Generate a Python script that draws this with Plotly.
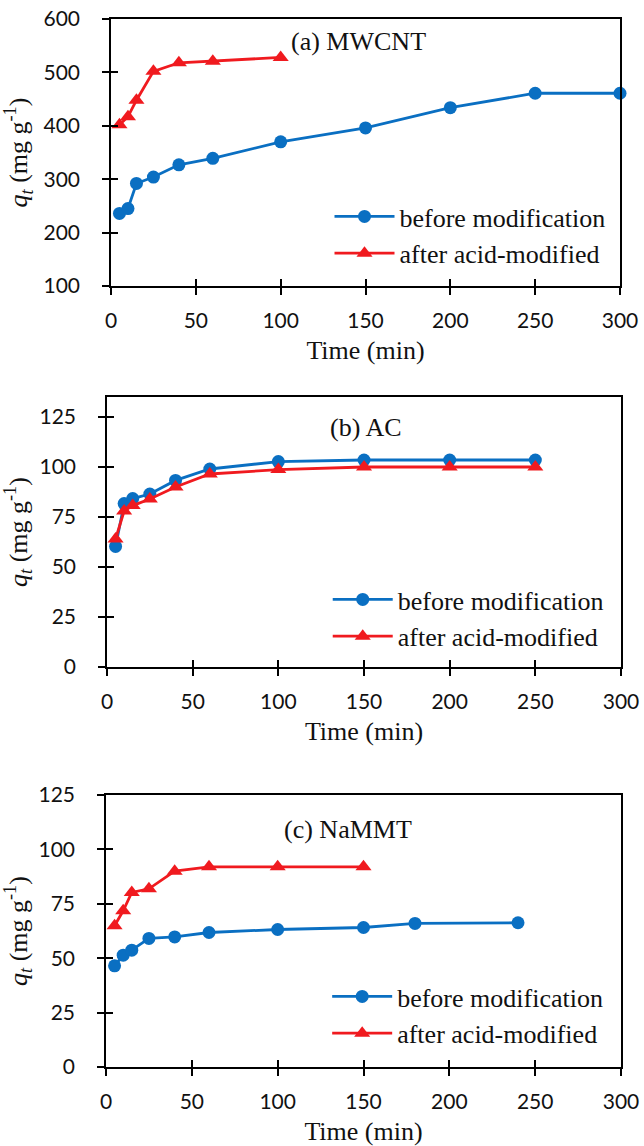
import plotly.graph_objects as go

# ---------------- data ----------------
t_a_before = [5, 10, 15, 25, 40, 60, 100, 150, 200, 250, 300]
q_a_before = [236, 245, 292, 304, 327, 339, 370, 396, 434, 461, 461]
t_a_after = [5, 10, 15, 25, 40, 60, 100]
q_a_after = [402, 417, 448, 502, 518, 521, 528]

t_b = [5, 10, 15, 25, 40, 60, 100, 150, 200, 250]
q_b_before = [60.3, 81.7, 84.2, 86.5, 93.3, 99.0, 102.7, 103.5, 103.5, 103.5]
q_b_after = [64.0, 78.0, 80.7, 84.0, 90.0, 96.5, 98.7, 100.0, 100.0, 100.0]

t_c_before = [5, 10, 15, 25, 40, 60, 100, 150, 180, 240]
q_c_before = [46.5, 51.4, 53.7, 59.1, 59.8, 61.8, 63.2, 64.1, 66.0, 66.3]
t_c_after = [5, 10, 15, 25, 40, 60, 100, 150]
q_c_after = [64.9, 71.8, 80.2, 81.9, 90.0, 92.0, 92.0, 92.0]

x_ticks = [0, 50, 100, 150, 200, 250, 300]
y_ticks_a = [100, 200, 300, 400, 500, 600]
y_ticks_b = [0, 25, 50, 75, 100, 125]
y_ticks_c = [0, 25, 50, 75, 100, 125]

panel_titles = ["(a) MWCNT", "(b) AC", "(c) NaMMT"]
series_names = ["before modification", "after acid-modified"]

BLUE = "#0A6FC2"
RED = "#F01A1F"
SERIF = "Liberation Serif"
SANS = "Lato"

W, H = 644, 1146

# panel pixel boxes: (left, right, top, bottom)
boxes = [(111, 620, 19, 286), (107, 621, 397, 667), (106, 621, 795, 1067)]
y_ranges = [[100, 600], [0, 135], [0, 125]]
y_tickvals = [y_ticks_a, y_ticks_b, y_ticks_c]
data = [
    (t_a_before, q_a_before, t_a_after, q_a_after),
    (t_b, q_b_before, t_b, q_b_after),
    (t_c_before, q_c_before, t_c_after, q_c_after),
]
title_pos = [(146, 557), (151, 120), (141, 109)]
legend_centers = [235, 618, 1015]  # pixel y of legend centre

fig = go.Figure()
layout = dict(
    width=W, height=H,
    margin=dict(l=0, r=0, t=0, b=0, autoexpand=False),
    paper_bgcolor="white", plot_bgcolor="white",
    showlegend=True,
    annotations=[],
)

ytitle = "<i>q</i><sub><i>t</i></sub> (mg g<sup>-1</sup>)"

for i in range(3):
    l, r, t, b = boxes[i]
    xd = [l / W, r / W]
    yd = [(H - b) / H, (H - t) / H]
    n = i + 1
    xm = "x" if n == 1 else f"x{n}"
    ym = "y" if n == 1 else f"y{n}"
    xo, yo = f"x{n + 3}", f"y{n + 3}"
    leg = "legend" if n == 1 else f"legend{n}"

    tb, qb, ta, qa = data[i]
    fig.add_trace(go.Scatter(
        x=tb, y=qb, mode="lines+markers", name=series_names[0],
        line=dict(color=BLUE, width=2.8),
        marker=dict(symbol="circle", size=13, color=BLUE),
        xaxis=xm, yaxis=ym, legend=leg, cliponaxis=False,
    ))
    fig.add_trace(go.Scatter(
        x=ta, y=qa, mode="lines+markers", name=series_names[1],
        line=dict(color=RED, width=2.8),
        marker=dict(symbol="triangle-up", size=14, color=RED),
        xaxis=xo, yaxis=yo, legend=leg, cliponaxis=False,
    ))

    common_x = dict(range=[0, 300], tickvals=x_ticks, showgrid=False, zeroline=False, automargin=False)
    common_y = dict(range=y_ranges[i], tickvals=y_tickvals[i], showgrid=False, zeroline=False, automargin=False)

    layout[f"xaxis{'' if n == 1 else n}"] = dict(
        domain=xd, anchor=ym, **common_x,
        showline=True, linecolor="black", linewidth=1.6, mirror=True,
        ticks="outside", ticklen=7, tickwidth=1.6, tickcolor="black",
        tickfont=dict(family=SANS, size=21, color="#111"),
        ticklabelstandoff=8,
        title=dict(text="Time (min)", font=dict(family=SERIF, size=26, color="#111"), standoff=10),
    )
    layout[f"yaxis{'' if n == 1 else n}"] = dict(
        domain=yd, anchor=xm, **common_y,
        showline=True, linecolor="black", linewidth=1.6, mirror=True,
        ticks="outside", ticklen=7, tickwidth=1.6, tickcolor="black",
        tickfont=dict(family=SANS, size=21, color="#111"),
        ticklabelstandoff=18,
        title=dict(text=ytitle, font=dict(family=SERIF, size=26, color="#111"), standoff=8),
    )
    # overlay axes: inner half of the cross tick marks
    layout[f"xaxis{n + 3}"] = dict(
        overlaying=xm, anchor=ym, **common_x,
        showline=False, ticks="inside", ticklen=7, tickwidth=1.6, tickcolor="black",
        showticklabels=False,
    )
    layout[f"yaxis{n + 3}"] = dict(
        overlaying=ym, anchor=xm, **common_y,
        showline=False, ticks="inside", ticklen=7, tickwidth=1.6, tickcolor="black",
        showticklabels=False,
    )

    layout[leg] = dict(
        x=(l + 0.445 * (r - l) - 8) / W, y=(H - legend_centers[i]) / H,
        xanchor="left", yanchor="middle",
        bgcolor="rgba(0,0,0,0)", borderwidth=0,
        font=dict(family=SERIF, size=26, color="#111"),
        itemwidth=60, tracegroupgap=0,
    )

    layout["annotations"].append(dict(
        x=title_pos[i][0], y=title_pos[i][1], xref=xm, yref=ym,
        text=panel_titles[i], showarrow=False,
        font=dict(family=SERIF, size=26, color="#111"),
        xanchor="center", yanchor="middle",
    ))

fig.update_layout(**layout)
fig.write_html(
    "out.html",
    config={"displayModeBar": False},
    post_script="document.body.style.margin='0';",
)
